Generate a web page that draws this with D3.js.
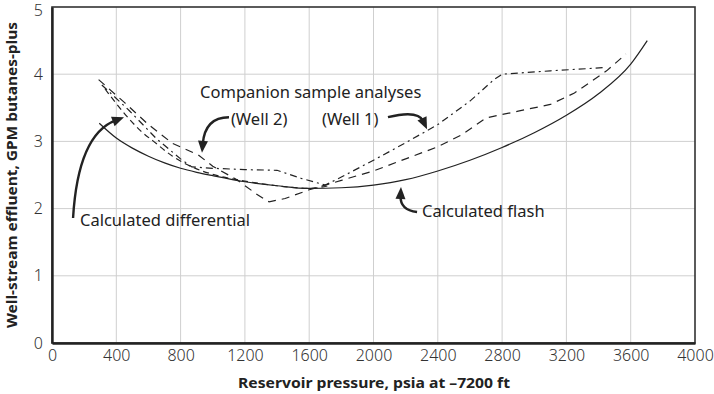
<!DOCTYPE html>
<html><head><meta charset="utf-8">
<script src="https://cdn.jsdelivr.net/npm/d3@7"></script>
<style>
html,body{margin:0;padding:0;background:#fff;}
text{font-family:"Noto Sans","Open Sans",sans-serif;}
</style></head>
<body><svg id="c" width="714" height="394"></svg>
<script>
// ---- data ----
const xTicks = [0,400,800,1200,1600,2000,2400,2800,3200,3600,4000];
const yTicks = [0,1,2,3,4,5];
const flash = [[294,3.27],[400,3.05],[500,2.90],[600,2.78],[700,2.68],[800,2.60],[900,2.54],[1000,2.49],[1200,2.40],[1400,2.34],[1600,2.30],[1800,2.31],[2000,2.35],[2200,2.43],[2400,2.56],[2600,2.72],[2800,2.91],[3000,3.13],[3200,3.39],[3400,3.71],[3600,4.15],[3703,4.50]];
const differential = [[330,3.78],[456,3.40],[550,3.16],[632,3.00],[750,2.78],[870,2.62],[1000,2.51],[1200,2.41],[1400,2.34],[1600,2.30],[1720,2.34]];
const well2 = [[290,3.92],[450,3.58],[600,3.25],[750,2.97],[910,2.80],[1000,2.63],[1150,2.43],[1270,2.22],[1350,2.10],[1450,2.15],[1600,2.28],[1800,2.42],[2000,2.56],[2200,2.74],[2400,2.92],[2550,3.10],[2700,3.35],[2900,3.45],[3100,3.55],[3250,3.72],[3450,4.05],[3570,4.30]];
const well1 = [[310,3.84],[480,3.46],[650,3.04],[800,2.74],[870,2.62],[1000,2.60],[1200,2.58],[1400,2.57],[1550,2.45],[1700,2.35],[1800,2.47],[2000,2.72],[2200,2.98],[2400,3.25],[2600,3.60],[2750,3.92],[2800,4.00],[3100,4.05],[3450,4.10]];
const labels = [
  {t:"Companion sample analyses", p:921, v:3.65},
  {t:"(Well 2)", p:1113, v:3.24},
  {t:"(Well 1)", p:1680, v:3.24},
  {t:"Calculated differential", p:174, v:1.74},
  {t:"Calculated flash", p:2302, v:1.875}
];
const arrows = [ // start, control, tip
  [[131,1.86],[162,3.10],[448,3.36]],
  [[1101,3.36],[952,3.36],[933,2.83]],
  [[2090,3.36],[2277,3.47],[2333,3.18]],
  [[2271,1.95],[2165,1.98],[2171,2.32]]
];
const xTitle = "Reservoir pressure, psia at \u20137200 ft";
const yTitle = "Well-stream effluent, GPM butanes-plus";

// ---- chart ----
const svg = d3.select("#c");
const x = d3.scaleLinear().domain([0,4000]).range([52,695]);
const y = d3.scaleLinear().domain([0,5]).range([343,7]);
const ink = "#222";

// grid
svg.append("g").selectAll("line").data(xTicks.slice(1,-1)).join("line")
  .attr("x1",d=>x(d)).attr("x2",d=>x(d)).attr("y1",y(0)).attr("y2",y(5))
  .attr("stroke","#cfcfcf").attr("stroke-width",1);
svg.append("g").selectAll("line").data(yTicks.slice(1,-1)).join("line")
  .attr("y1",d=>y(d)).attr("y2",d=>y(d)).attr("x1",x(0)).attr("x2",x(4000))
  .attr("stroke","#cfcfcf").attr("stroke-width",1);

// frame
svg.append("rect").attr("x",x(0)).attr("y",y(5)).attr("width",x(4000)-x(0)).attr("height",y(0)-y(5))
  .attr("fill","none").attr("stroke","#333").attr("stroke-width",1.6);
const xAxis = d3.axisBottom(x).tickValues(xTicks).tickFormat(d3.format("d")).tickSize(0).tickPadding(7);
const gx = svg.append("g").attr("transform",`translate(0,${y(0)})`).call(xAxis);
gx.select(".domain").attr("stroke",ink).attr("stroke-width",2.4);
gx.selectAll("text").attr("font-size",16).attr("font-weight",300).attr("fill","#333").attr("font-family","'Noto Sans',sans-serif");
const yAxis = d3.axisLeft(y).tickValues(yTicks).tickFormat(d3.format("d")).tickSize(0).tickPadding(9);
const gy = svg.append("g").attr("transform",`translate(${x(0)},0)`).call(yAxis);
gy.select(".domain").attr("stroke",ink).attr("stroke-width",2.4);
gy.selectAll("text").attr("font-size",16).attr("font-weight",300).attr("fill","#333").attr("font-family","'Noto Sans',sans-serif")
  .attr("dy",d=>d===5?"0.55em":"0.32em");

// titles
svg.append("text").attr("x",374).attr("y",388).attr("text-anchor","middle")
  .attr("font-size",15).attr("font-weight","bold").attr("fill",ink)
  .attr("textLength",272).attr("lengthAdjust","spacingAndGlyphs").text(xTitle);
svg.append("text").attr("transform","translate(17,175) rotate(-90)").attr("text-anchor","middle")
  .attr("font-size",15).attr("font-weight","bold").attr("fill",ink)
  .attr("textLength",306).attr("lengthAdjust","spacingAndGlyphs").text(yTitle);

// lines
const line = d3.line().x(d=>x(d[0])).y(d=>y(d[1])).curve(d3.curveMonotoneX);
const lineLin = d3.line().x(d=>x(d[0])).y(d=>y(d[1]));
svg.append("path").datum(flash).attr("d",line).attr("fill","none").attr("stroke",ink).attr("stroke-width",1.2);
svg.append("path").datum(differential).attr("d",line).attr("fill","none").attr("stroke",ink).attr("stroke-width",1.2).attr("stroke-dasharray","6,4");
svg.append("path").datum(well2).attr("d",lineLin).attr("fill","none").attr("stroke",ink).attr("stroke-width",1.2).attr("stroke-dasharray","8,6");
svg.append("path").datum(well1).attr("d",lineLin).attr("fill","none").attr("stroke",ink).attr("stroke-width",1.2).attr("stroke-dasharray","7,4,2,4");

// labels
svg.append("g").selectAll("text").data(labels).join("text")
  .attr("x",d=>x(d.p)).attr("y",d=>y(d.v)).attr("font-size",16.5).attr("fill",ink).text(d=>d.t);

// arrows
arrows.forEach(a=>{
  const [s,c,t] = a.map(d=>[x(d[0]),y(d[1])]);
  const ang = Math.atan2(t[1]-c[1], t[0]-c[0]);
  const L=12, W=5;
  const bx = t[0]-L*Math.cos(ang), by = t[1]-L*Math.sin(ang);
  svg.append("path").attr("d",`M${s[0]},${s[1]}Q${c[0]},${c[1]} ${bx+3*Math.cos(ang)},${by+3*Math.sin(ang)}`)
    .attr("fill","none").attr("stroke",ink).attr("stroke-width",2.4);
  const px=-Math.sin(ang), py=Math.cos(ang);
  svg.append("path").attr("d",`M${t[0]},${t[1]}L${bx+W*px},${by+W*py}L${bx-W*px},${by-W*py}Z`).attr("fill",ink);
});
</script></body></html>
